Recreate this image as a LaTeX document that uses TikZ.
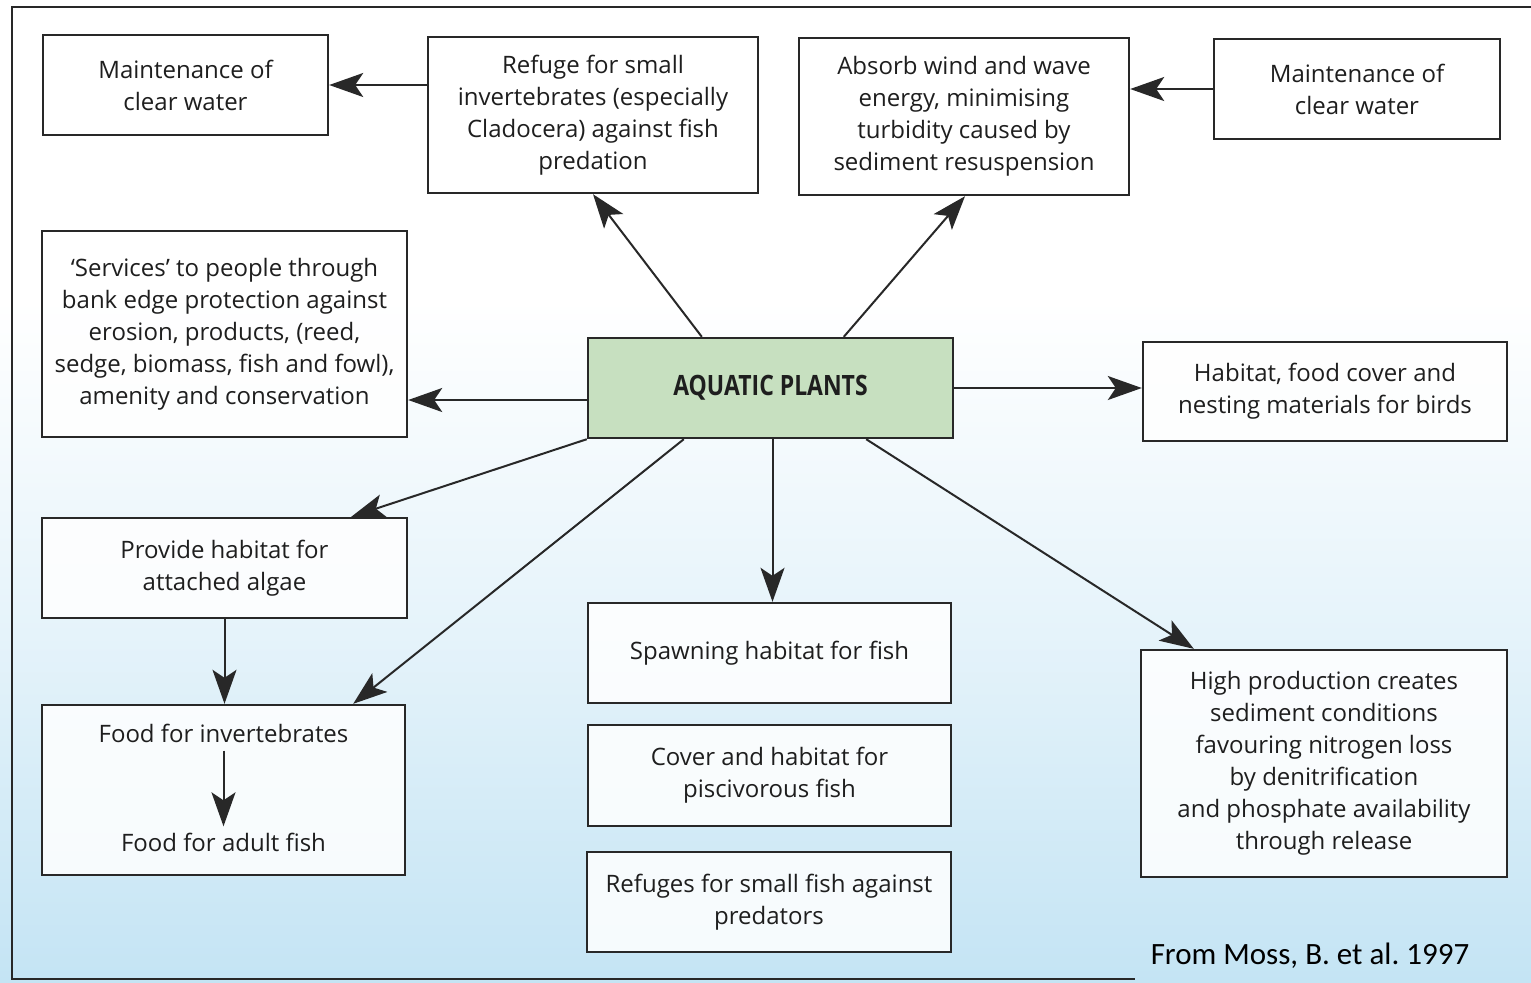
\documentclass[tikz,border=0pt]{standalone}
\usepackage{fontspec}
\setmainfont{Open Sans}
\newfontfamily\apfont{Open Sans}[FakeStretch=0.82]
\newfontfamily\citefont{Carlito}
\usetikzlibrary{arrows.meta,calc}
\definecolor{bgblue}{RGB}{196,228,244}
\definecolor{boxline}{RGB}{40,40,40}
\definecolor{txt}{RGB}{30,30,30}
\definecolor{apgreen}{RGB}{199,224,192}
\begin{document}
\begin{tikzpicture}[x=0.5pt,y=-0.5pt,
  box/.style={draw=boxline, line width=1.2pt, fill=white, fill opacity=0.85, text opacity=1,
    align=center, inner sep=0pt, text=txt, font=\fontsize{12}{16}\selectfont},
  plain/.style={inner sep=0pt, align=center, text=txt, font=\fontsize{12}{16}\selectfont},
  arr/.style={draw=boxline, line width=1pt, -{Stealth[length=17pt,width=12pt,inset=4pt]}}]
\useasboundingbox (0,0) rectangle (1531,982);
\fill[white] (0,0) rectangle (1531,982);
\shade[top color=white, bottom color=bgblue, middle color=white!55!bgblue] (0,300) rectangle (1531,982);
% frame
\draw[boxline, line width=1pt] (1531,7) -- (12,7) -- (12,979) -- (1135,979);

\node[box, minimum width=142.5pt, minimum height=50pt] (m1) at (185.5,85) {Maintenance of\\clear water};
\node[box, minimum width=165pt, minimum height=78pt] (ref) at (593,115) {Refuge for small\\invertebrates (especially\\Cladocera) against fish\\predation};
\node[box, minimum width=165pt, minimum height=78.5pt] (abs) at (964,116.5) {Absorb wind and wave\\energy, minimising\\turbidity caused by\\sediment resuspension};
\node[box, minimum width=143pt, minimum height=50pt] (m2) at (1357,89) {Maintenance of\\clear water};
\node[box, minimum width=182.5pt, minimum height=103pt] (serv) at (224.5,334) {‘Services’ to people through\\bank edge protection against\\erosion, products, (reed,\\sedge, biomass, fish and fowl),\\amenity and conservation};
\node[box, fill=apgreen, fill opacity=1, minimum width=182.5pt, minimum height=50pt, font=\apfont\bfseries\fontsize{14}{16}\selectfont] (ap) at (770.5,388) {AQUATIC PLANTS};
\node[box, minimum width=182pt, minimum height=49.5pt] (birds) at (1325,391.5) {Habitat, food cover and\\nesting materials for birds};
\node[box, minimum width=182.5pt, minimum height=50pt] (prov) at (224.5,568) {Provide habitat for\\attached algae};
\node[box, minimum width=181.5pt, minimum height=85pt] (food) at (223.5,790) {};
\node[plain] (ftop) at (223.5,733) {Food for invertebrates};
\node[plain] (fbot) at (223.5,842) {Food for adult fish};
\node[box, minimum width=181.5pt, minimum height=50pt] (spawn) at (769.5,653) {Spawning habitat for fish};
\node[box, minimum width=181.5pt, minimum height=50.5pt] (cover) at (769.5,775.5) {Cover and habitat for\\piscivorous fish};
\node[box, minimum width=182pt, minimum height=50pt] (refug) at (769,902) {Refuges for small fish against\\predators};
\node[box, minimum width=183pt, minimum height=113.5pt] (high) at (1324,763.5) {High production creates\\sediment conditions\\favouring nitrogen loss\\by denitrification\\and phosphate availability\\through release};
\node[inner sep=0pt, font=\citefont\fontsize{15.5}{18}\selectfont, text=black] (cite) at (1310,956) {From Moss, B. et al.\ 1997};

% connectors
\draw[arr] (ref.west |- m1.east) -- (m1.east);
\draw[arr] (m2.west) -- (abs.east |- m2.west);
\draw[arr] ($(ap.north west)+(115,0)$) -- (ref.south);
\draw[arr] ($(ap.north west)+(257,0)$) -- ($(abs.south)+(1,0)$);
\coordinate (apw) at ($(ap.west)+(0,12)$);
\draw[arr] (apw) -- (serv.east |- apw);
\draw[arr] (ap.east) -- (birds.west |- ap.east);
\draw[arr] (ap.south west) -- ($(prov.north east)+(-57,0)$);
\draw[arr] ($(ap.south west)+(97,0)$) -- ($(food.north east)+(-53,0)$);
\coordinate (aps) at ($(ap.south)+(2,0)$);
\draw[arr] (aps) -- (aps |- spawn.north);
\draw[arr] ($(ap.south east)+(-88,0)$) -- ($(high.north west)+(54,0)$);
\draw[arr] (prov.south) -- (prov.south |- food.north);
\draw[arr] ($(ftop.south)+(0,8)$) -- ($(fbot.north)+(0,-6)$);
\end{tikzpicture}
\end{document}
